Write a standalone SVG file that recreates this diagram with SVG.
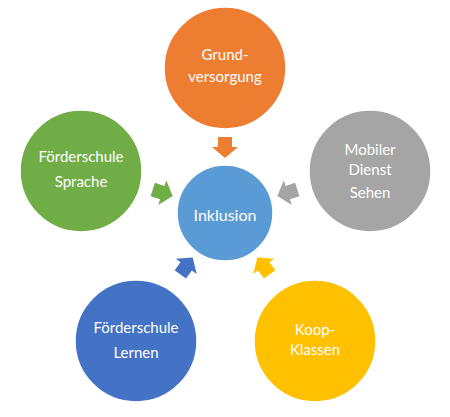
<svg xmlns="http://www.w3.org/2000/svg" width="450" height="417" viewBox="0 0 450 417">
<style>
.c{stroke:#fff;stroke-width:1.5}
.t{font-family:Lato,"Open Sans",sans-serif;font-size:15px;fill:#fff;text-anchor:middle}
</style>
<defs>
<path id="arr" d="M-7,-10 H7 V0 H13 L0,11 L-13,0 H-7 Z"/>
</defs>
<rect width="450" height="417" fill="#fff"/>
<g id="connectors">
<use href="#arr" fill="#ED7D31" transform="rotate(0 225 213) translate(225 147)"/>
<use href="#arr" fill="#A5A5A5" transform="rotate(72 225 213) translate(225 147)"/>
<use href="#arr" fill="#FFC000" transform="rotate(144 225 213) translate(225 147)"/>
<use href="#arr" fill="#4472C4" transform="rotate(216 225 213) translate(225 147)"/>
<use href="#arr" fill="#70AD47" transform="rotate(288 225 213) translate(225 147)"/>
</g>
<g id="inklusion">
<circle class="c" cx="225" cy="213" r="48" fill="#5B9BD5"/>
<text class="t" x="225" y="221" style="font-size:16px">Inklusion</text>
</g>
<g id="grundversorgung">
<circle class="c" cx="225" cy="68" r="61" fill="#ED7D31"/>
<text class="t" x="225" y="60">Grund-</text>
<text class="t" x="225" y="82">versorgung</text>
</g>
<g id="mobiler-dienst">
<circle class="c" cx="370" cy="171" r="61" fill="#A5A5A5"/>
<text class="t" x="370" y="155">Mobiler</text>
<text class="t" x="370" y="175">Dienst</text>
<text class="t" x="370" y="198">Sehen</text>
</g>
<g id="koop-klassen">
<circle class="c" cx="315" cy="341" r="61" fill="#FFC000"/>
<text class="t" x="315" y="335">Koop-</text>
<text class="t" x="315" y="355">Klassen</text>
</g>
<g id="foerderschule-lernen">
<circle class="c" cx="136" cy="341" r="61" fill="#4472C4"/>
<text class="t" x="136" y="333">Förderschule</text>
<text class="t" x="136" y="358">Lernen</text>
</g>
<g id="foerderschule-sprache">
<circle class="c" cx="81" cy="171" r="61" fill="#70AD47"/>
<text class="t" x="81" y="162">Förderschule</text>
<text class="t" x="81" y="187">Sprache</text>
</g>
</svg>
